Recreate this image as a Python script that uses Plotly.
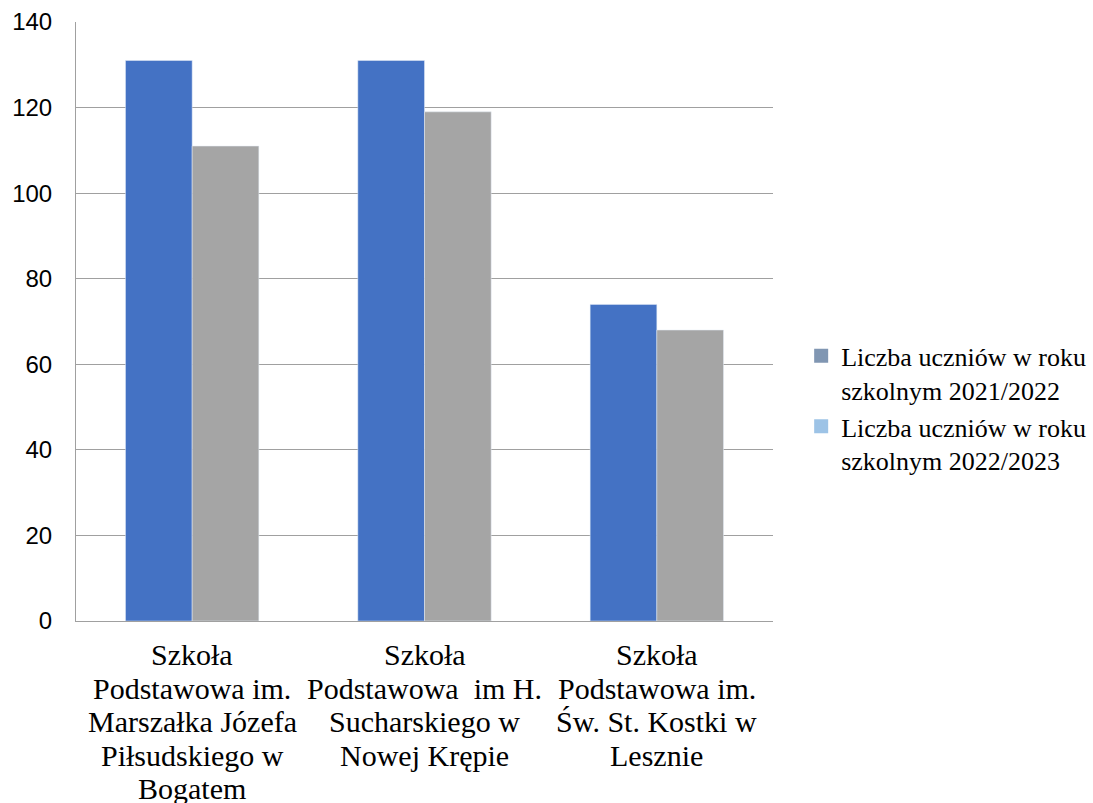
import plotly.graph_objects as go

categories = [
    "Szkoła<br>Podstawowa im.<br>Marszałka Józefa<br>Piłsudskiego w<br>Bogatem",
    "Szkoła<br>Podstawowa  im H.<br>Sucharskiego w<br>Nowej Krępie",
    "Szkoła<br>Podstawowa im.<br>Św. St. Kostki w<br>Lesznie",
]
series_names = ["Liczba uczniów w roku<br>szkolnym 2021/2022", "Liczba uczniów w roku<br>szkolnym 2022/2023"]
values_2021 = [131, 131, 74]
values_2022 = [111, 119, 68]
bar_colors = ["#4472C4", "#A5A5A5"]
legend_colors = ["#8096B2", "#9DC3E6"]

fig = go.Figure()
fig.add_trace(go.Bar(x=categories, y=values_2021, marker_color=bar_colors[0], showlegend=False))
fig.add_trace(go.Bar(x=categories, y=values_2022, marker_color=bar_colors[1], showlegend=False))
for name, col in zip(series_names, legend_colors):
    fig.add_trace(go.Scatter(x=[None], y=[None], mode="markers", name=name,
                             marker=dict(symbol="square", size=14, color=col),
                             showlegend=True))

# multi-line category labels with tight (Word-like) line spacing
line_gap = 33.5
for cat in categories:
    for j, line in enumerate(cat.split("<br>")):
        fig.add_annotation(
            x=cat, y=0, xref="x", yref="paper", text=line, showarrow=False,
            xanchor="center", yanchor="middle", yshift=-(line_gap * (j + 1)),
            font=dict(family="Liberation Serif", size=30, color="black"),
        )

fig.update_layout(
    width=1093, height=803,
    margin=dict(l=76, r=320, t=22, b=182),
    paper_bgcolor="white", plot_bgcolor="white",
    barmode="group", bargap=0.426, bargroupgap=0,
    legend=dict(
        xref="container", x=0.733, y=0.355, xanchor="left", yanchor="middle", valign="top",
        font=dict(family="Liberation Serif", size=26, color="black"),
        itemwidth=30, tracegroupgap=0,
    ),
    showlegend=True,
)
fig.update_xaxes(
    type="category", automargin=False,
    showline=True, linecolor="#A0A0A0", linewidth=1,
    showgrid=False, ticks="", showticklabels=False,
)
fig.update_yaxes(
    range=[0, 140], dtick=20, automargin=False,
    showline=True, linecolor="#A0A0A0", linewidth=1,
    gridcolor="#A0A0A0", gridwidth=1,
    ticks="", ticklabelstandoff=18,
    tickfont=dict(family="Liberation Sans", size=24, color="black"),
    zeroline=False,
)
fig.write_html("out.html", config={"displayModeBar": False},
               post_script="document.body.style.margin='0';document.body.style.overflow='hidden';")
